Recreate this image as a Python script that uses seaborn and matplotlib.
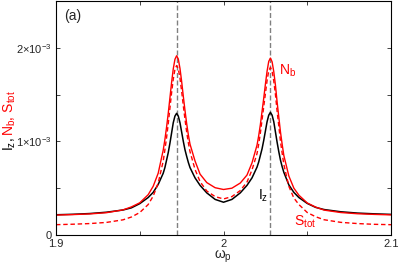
import numpy as np
import pandas as pd
import matplotlib
matplotlib.use("Agg")
import matplotlib.pyplot as plt
import seaborn as sns

# values, y in units of 1e-3
omega = [1.900, 1.910, 1.920, 1.930, 1.940, 1.945, 1.950, 1.955, 1.958, 1.961,
         1.964, 1.965, 1.966, 1.967, 1.968, 1.969, 1.970, 1.971, 1.972,
         1.973, 1.974, 1.975, 1.976, 1.977, 1.978, 1.979, 1.980,
         1.983, 1.986, 1.990, 1.995, 2.000, 2.005, 2.010, 2.014, 2.017,
         2.020, 2.021, 2.022, 2.023, 2.024, 2.025, 2.026, 2.027, 2.028,
         2.029, 2.030, 2.031, 2.032, 2.033, 2.034, 2.035, 2.036,
         2.039, 2.042, 2.045, 2.050, 2.055, 2.060, 2.070, 2.080, 2.090, 2.100]
nb = [0.213, 0.218, 0.225, 0.238, 0.268, 0.300, 0.344, 0.430, 0.520, 0.660,
      0.907, 1.020, 1.152, 1.300, 1.464, 1.630, 1.775, 1.877, 1.915,
      1.880, 1.780, 1.640, 1.480, 1.330, 1.190, 1.070, 0.970,
      0.790, 0.650, 0.560, 0.505, 0.486, 0.500, 0.555, 0.640, 0.770,
      0.960, 1.060, 1.180, 1.320, 1.460, 1.610, 1.750, 1.855, 1.890,
      1.850, 1.745, 1.600, 1.420, 1.260, 1.100, 0.970, 0.850,
      0.630, 0.500, 0.425, 0.342, 0.298, 0.266, 0.240, 0.227, 0.220, 0.215]
iz = [0.216, 0.221, 0.229, 0.243, 0.267, 0.290, 0.335, 0.400, 0.455, 0.540,
      0.660, 0.720, 0.800, 0.880, 0.980, 1.090, 1.200, 1.270, 1.300,
      1.270, 1.200, 1.100, 1.000, 0.910, 0.840, 0.775, 0.720,
      0.610, 0.530, 0.450, 0.380, 0.350, 0.380, 0.450, 0.530, 0.610,
      0.725, 0.780, 0.850, 0.920, 1.010, 1.110, 1.210, 1.280, 1.310,
      1.280, 1.210, 1.100, 0.990, 0.890, 0.800, 0.730, 0.670,
      0.535, 0.455, 0.400, 0.337, 0.295, 0.272, 0.248, 0.234, 0.226, 0.220]
stot = [0.110, 0.115, 0.122, 0.134, 0.162, 0.192, 0.240, 0.325, 0.415, 0.555,
        0.790, 0.910, 1.040, 1.190, 1.355, 1.520, 1.665, 1.770, 1.810,
        1.775, 1.675, 1.535, 1.380, 1.235, 1.100, 0.985, 0.890,
        0.700, 0.570, 0.470, 0.410, 0.385, 0.410, 0.475, 0.565, 0.695,
        0.870, 0.970, 1.090, 1.230, 1.370, 1.510, 1.650, 1.755, 1.790,
        1.750, 1.645, 1.500, 1.320, 1.165, 1.000, 0.875, 0.755,
        0.520, 0.395, 0.325, 0.240, 0.195, 0.163, 0.135, 0.122, 0.114, 0.110]
peak_pos = [1.972, 2.028]

xticks = [1.9, 1.95, 2.0, 2.05, 2.1]
xticklabels = ["1.9", "", "2", "", "2.1"]
yticks = [0, 0.5e-3, 1e-3, 1.5e-3, 2e-3]
yticklabels = ["0", "", "1\u00d710$^{-3}$", "", "2\u00d710$^{-3}$"]

df = pd.DataFrame({"omega": omega,
                   "Nb": np.array(nb) * 1e-3,
                   "Iz": np.array(iz) * 1e-3,
                   "Stot": np.array(stot) * 1e-3})

sns.set_style("ticks")
plt.rcParams["font.family"] = ["Liberation Sans", "DejaVu Sans"]
plt.rcParams["mathtext.fontset"] = "custom"
plt.rcParams["mathtext.rm"] = "Liberation Sans"
plt.rcParams["mathtext.it"] = "Liberation Sans"
plt.rcParams["axes.unicode_minus"] = False

fig = plt.figure(figsize=(3.99, 2.67), dpi=100)
ax = fig.add_axes([0.1404, 0.1199, 0.8396, 0.8764])

for xp in peak_pos:
    ax.axvline(xp, color="#808080", lw=1.0, dashes=(3.6, 1.8), zorder=1)

sns.lineplot(data=df, x="omega", y="Iz", color="black", lw=1.1, ax=ax)
sns.lineplot(data=df, x="omega", y="Stot", color="#ff0000", lw=1.0, ax=ax)
ax.lines[-1].set_dashes((3.2, 2.0))
sns.lineplot(data=df, x="omega", y="Nb", color="#ff0000", lw=1.0, ax=ax)

ax.set_xlim(1.9, 2.1)
ax.set_ylim(0, 2.5e-3)
ax.set_xticks(xticks)
ax.set_xticklabels(xticklabels)
ax.set_yticks(yticks)
ax.set_yticklabels(yticklabels)
ax.tick_params(direction="in", top=True, right=True, length=3, width=0.6,
               labelsize=8, pad=3)
for s in ax.spines.values():
    s.set_linewidth(0.8)
    s.set_color("black")
ax.set_xlabel("")
ax.set_ylabel("")

ax.text(0.025, 0.965, "(a)", transform=ax.transAxes, fontsize=10, va="top", ha="left")
ax.text(2.0333, 1.75e-3, "N$_\\mathrm{b}$", color="#ff0000", fontsize=10, va="center", ha="left")
ax.text(2.0205, 0.42e-3, "I$_\\mathrm{z}$", color="black", fontsize=10, va="center", ha="left")
ax.text(2.0418, 0.14e-3, "S$_\\mathrm{tot}$", color="#ff0000", fontsize=10, va="center", ha="left")

fig.text(0.56, 0.03, "\u03c9$_\\mathrm{p}$", fontsize=10, ha="center", va="baseline")
fig.text(0.024, 0.485, "I$_\\mathrm{z}$,", color="black", fontsize=10, rotation=90,
         ha="center", va="top")
fig.text(0.024, 0.492, "N$_\\mathrm{b}$, S$_\\mathrm{tot}$", color="#ff0000", fontsize=10,
         rotation=90, ha="center", va="bottom")

fig.savefig("out.png", dpi=100)
